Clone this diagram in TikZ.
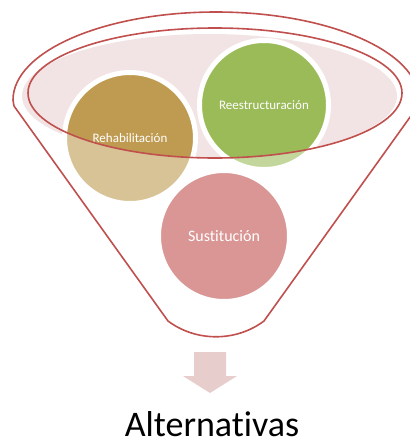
\documentclass[tikz,border=0pt]{standalone}
\usepackage{fontspec}
\setmainfont{Carlito}[Ligatures=NoCommon]
\usepackage{xcolor}
\usepackage{tikz}
\usetikzlibrary{shapes,arrows,positioning}

\definecolor{funnelred}{RGB}{192,80,77}
\definecolor{rimpink}{RGB}{242,228,228}
\definecolor{rehabdark}{RGB}{191,155,81}
\definecolor{rehablight}{RGB}{216,195,150}
\definecolor{restdark}{RGB}{155,187,89}
\definecolor{restlight}{RGB}{195,214,155}
\definecolor{sustpink}{RGB}{217,150,148}
\definecolor{arrowpink}{RGB}{232,205,205}

\begin{document}
\begin{tikzpicture}[
    x=1pt, y=-1pt,
    rim/.style={draw=funnelred, line width=1.6pt, line join=round},
    bubble/.style={circle, draw=white, line width=5pt, minimum size=130pt, inner sep=0pt, text=white, font=\fontsize{13}{15}\selectfont},
    result/.style={font=\fontsize{36}{38}\selectfont, anchor=base, inner sep=0pt},
]
    \useasboundingbox (0,0) rectangle (410,445);
    \clip (0,0) rectangle (410,445);

    % Opening of the funnel
    \coordinate (rimc) at (215,93);
    \fill[rimpink] (209.5,96) ellipse [x radius=187.5, y radius=62];

    % Funnel body
    \draw[rim] (168,321) -- (14,106) -- (13,100)
        arc [start angle=180, end angle=360, x radius=203, y radius=88]
        -- (418,106) -- (264,321) .. controls (236,342) and (196,342) .. cycle;

    % Bubbles in the opening
    \node[bubble, fill=rehablight, minimum size=131pt,
        path picture={\fill[rehabdark] (rimc) ellipse [x radius=187pt, y radius=65pt];}]
        (rehab) at (130,138) {Rehabilitación};
    \node[bubble, fill=restlight, minimum size=129pt,
        path picture={\fill[restdark] (rimc) ellipse [x radius=187pt, y radius=65pt];}]
        (restr) at (264,105) {Reestructuración};

    % Rim line over the bubbles
    \draw[rim] (rimc) ellipse [x radius=187, y radius=65];

    % Bubble in the neck
    \node[bubble, fill=sustpink, minimum size=131pt, font=\fontsize{16}{18}\selectfont] (sust) at (224,236) {Sustitución};

    % Arrow and result
    \fill[arrowpink] (194,352) -- (226,352) -- (226,376) -- (237,376) -- (210,393) -- (183,376) -- (194,376) -- cycle;
    \node[result] (alt) at (212,436.5) {Alternativas};
\end{tikzpicture}
\end{document}
